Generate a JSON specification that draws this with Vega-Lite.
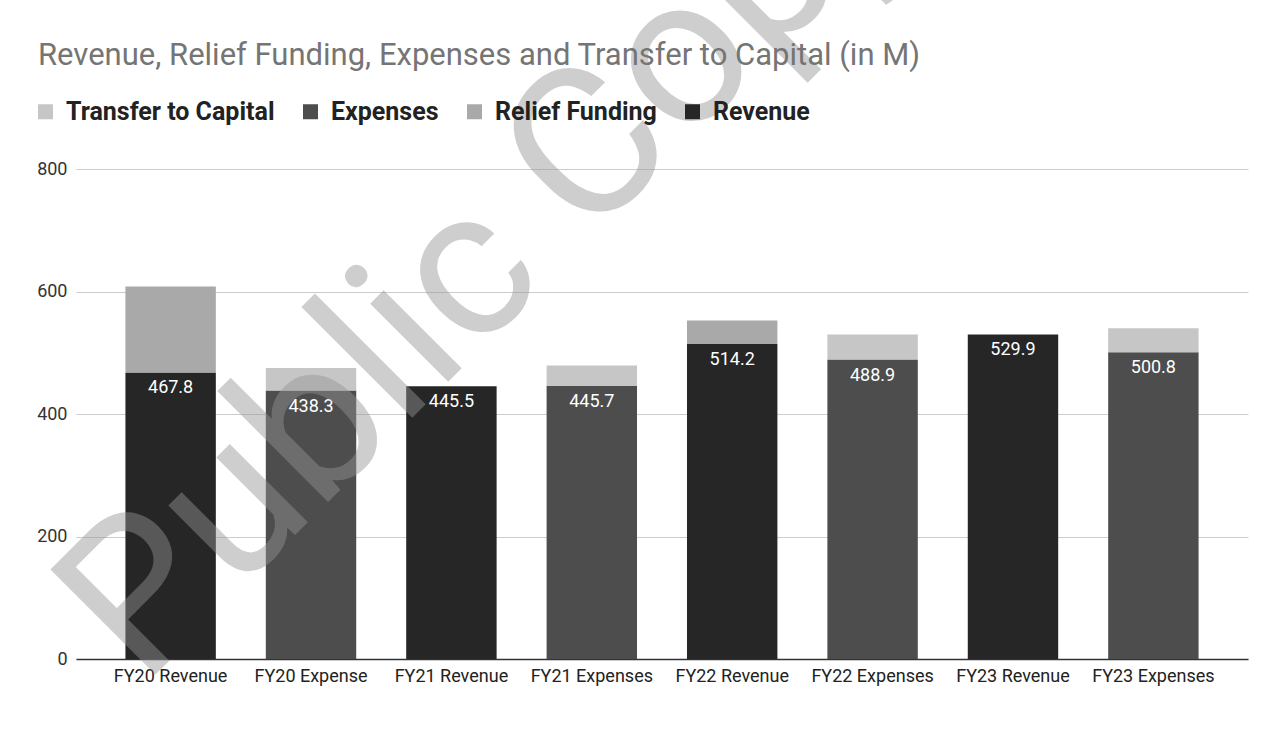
{
  "$schema": "https://vega.github.io/schema/vega-lite/v6.json",
  "autosize": {"type": "none"},
  "width": 1172,
  "height": 490,
  "padding": {"left": 76, "top": 169, "right": 27, "bottom": 70},
  "background": "white",
  "config": {
    "font": "Roboto",
    "view": {"stroke": null},
    "legend": {"padding": 0}
  },
  "title": {
    "text": "Revenue, Relief Funding, Expenses and Transfer to Capital (in M)",
    "anchor": "start",
    "frame": "group",
    "dx": -38,
    "font": "Roboto",
    "fontSize": 31,
    "fontWeight": "normal",
    "color": "#757575",
    "offset": -280
  },
  "data": {
    "values": [
      {"bar": "FY20 Revenue", "series": "Revenue", "part": "base", "value": 467.8},
      {"bar": "FY20 Revenue", "series": "Relief Funding", "part": "top", "value": 140.2},
      {"bar": "FY20 Expense", "series": "Expenses", "part": "base", "value": 438.3},
      {"bar": "FY20 Expense", "series": "Transfer to Capital", "part": "top", "value": 36.6},
      {"bar": "FY21 Revenue", "series": "Revenue", "part": "base", "value": 445.5},
      {"bar": "FY21 Expenses", "series": "Expenses", "part": "base", "value": 445.7},
      {"bar": "FY21 Expenses", "series": "Transfer to Capital", "part": "top", "value": 33.4},
      {"bar": "FY22 Revenue", "series": "Revenue", "part": "base", "value": 514.2},
      {"bar": "FY22 Revenue", "series": "Relief Funding", "part": "top", "value": 38.3},
      {"bar": "FY22 Expenses", "series": "Expenses", "part": "base", "value": 488.9},
      {"bar": "FY22 Expenses", "series": "Transfer to Capital", "part": "top", "value": 40.8},
      {"bar": "FY23 Revenue", "series": "Revenue", "part": "base", "value": 529.9},
      {"bar": "FY23 Expenses", "series": "Expenses", "part": "base", "value": 500.8},
      {"bar": "FY23 Expenses", "series": "Transfer to Capital", "part": "top", "value": 39.3}
    ]
  },
  "encoding": {
    "x": {
      "field": "bar",
      "type": "nominal",
      "sort": ["FY20 Revenue", "FY20 Expense", "FY21 Revenue", "FY21 Expenses", "FY22 Revenue", "FY22 Expenses", "FY23 Revenue", "FY23 Expenses"],
      "scale": {"paddingInner": 0.356, "paddingOuter": 0.352},
      "axis": {
        "title": null,
        "labelAngle": 0,
        "labelFont": "Roboto",
        "labelFontSize": 18,
        "labelColor": "#222222",
        "labelPadding": 8,
        "ticks": false,
        "domainColor": "#333333",
        "domainWidth": 1.5,
        "grid": false
      }
    }
  },
  "layer": [
    {
      "mark": {"type": "bar"},
      "encoding": {
        "y": {
          "field": "value",
          "type": "quantitative",
          "stack": "zero",
          "scale": {"domain": [0, 800], "nice": false},
          "axis": {
            "title": null,
            "values": [0, 200, 400, 600, 800],
            "labelFont": "Roboto",
            "labelFontSize": 18,
            "labelColor": "#333333",
            "labelPadding": 9,
            "ticks": false,
            "domain": false,
            "gridColor": "#cccccc",
            "gridWidth": 1
          }
        },
        "color": {
          "field": "series",
          "type": "nominal",
          "scale": {
            "domain": ["Transfer to Capital", "Expenses", "Relief Funding", "Revenue"],
            "range": ["#c6c6c6", "#4d4d4d", "#a9a9a9", "#262626"]
          },
          "legend": {
            "title": null,
            "orient": "none",
            "direction": "horizontal",
            "legendX": -43,
            "legendY": -70,
            "symbolType": "square",
            "symbolSize": 225,
            "symbolStrokeWidth": 0,
            "labelFont": "Roboto",
            "labelFontSize": 25,
            "labelFontWeight": "bold",
            "labelColor": "#222222",
            "labelLimit": 0,
            "labelOffset": 8,
            "columnPadding": 23
          }
        },
        "order": {"field": "part", "sort": "ascending"}
      }
    },
    {
      "transform": [{"filter": "datum.part === 'base'"}],
      "mark": {"type": "text", "color": "white", "font": "Roboto", "fontSize": 18, "baseline": "middle", "dy": 16},
      "encoding": {
        "y": {"field": "value", "type": "quantitative", "stack": null},
        "text": {"field": "value", "type": "quantitative", "format": ".1f"}
      }
    },
    {
      "data": {"values": [{"mark": "Public Copy"}]},
      "mark": {"type": "text", "font": "Roboto", "fontSize": 209, "angle": 315, "align": "center", "baseline": "alphabetic", "color": "#959595", "opacity": 0.45},
      "encoding": {
        "x": {"datum": "FY21 Revenue", "bandPosition": 1.385},
        "y": {"datum": 588.4, "type": "quantitative"},
        "text": {"field": "mark", "type": "nominal"}
      }
    }
  ]
}
